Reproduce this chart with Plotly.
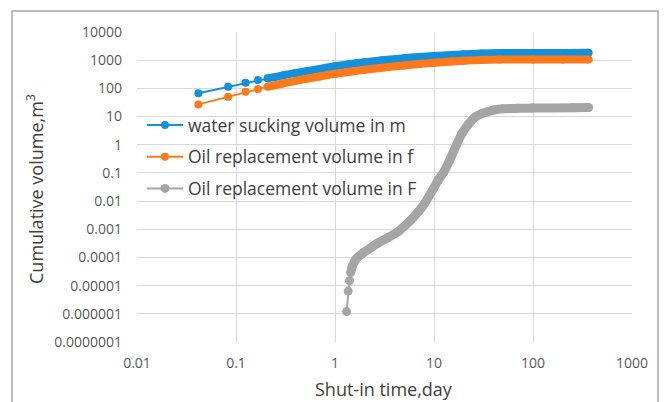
import plotly.graph_objects as go

# ---- data (time in days, volume in m^3) ----
t_water = [0.0417, 0.0833, 0.125, 0.1667, 0.2083, 0.25, 0.3, 0.4, 0.5, 0.7, 1.0, 1.42,
           2, 3, 5, 7, 10, 15, 20, 30, 46, 100, 200, 365]
v_water = [67, 114, 159, 198, 227, 255, 290, 350, 400, 490, 610, 730,
           850, 1000, 1180, 1300, 1400, 1530, 1620, 1720, 1780, 1800, 1810, 1820]

t_oil_f = [0.0417, 0.0833, 0.125, 0.1667, 0.2083, 0.25, 0.3, 0.4, 0.5, 0.7, 1.0, 1.42,
           2, 3, 5, 7, 10, 15, 20, 30, 46, 100, 200, 365]
v_oil_f = [27, 50, 76, 95, 114, 130, 150, 185, 215, 265, 330, 390,
           460, 540, 650, 730, 810, 890, 950, 1020, 1060, 1060, 1060, 1060]

t_oil_F = [1.31, 1.36, 1.40, 1.44, 1.50, 1.62, 1.9, 2.3, 2.7, 3.4, 4.3, 5.8, 7.0, 8.1,
           9.0, 10.0, 11.0, 12.4, 14.5, 16.9, 19, 22, 26, 30, 34, 40, 50, 70, 100, 250, 365]
v_oil_F = [1.2e-6, 6.4e-6, 1.5e-5, 2.9e-5, 5e-5, 8.5e-5, 1.4e-4, 2.2e-4, 3.2e-4, 5e-4,
           8.1e-4, 2.1e-3, 4.3e-3, 0.0085, 0.016, 0.03, 0.055, 0.1, 0.3, 1, 2.4, 5, 9.5,
           12.5, 14.5, 17, 19, 19.5, 20, 20.5, 21]

names = ["water sucking volume in m", "Oil replacement volume in f", "Oil replacement volume in F"]
colors = ["#1591DB", "#FD7A1C", "#A5A5A5"]
band_start = [4, 4, 3]

x_ticks = [0.01, 0.1, 1, 10, 100, 1000]
x_labels = ["0.01", "0.1", "1", "10", "100", "1000"]
y_ticks = [1e4, 1e3, 1e2, 1e1, 1, 0.1, 0.01, 1e-3, 1e-4, 1e-5, 1e-6, 1e-7]
y_labels = ["10000", "1000", "100", "10", "1", "0.1", "0.01", "0.001", "0.0001",
            "0.00001", "0.000001", "0.0000001"]

series = [(t_water, v_water), (t_oil_f, v_oil_f), (t_oil_F, v_oil_F)]

fig = go.Figure()
for i, ((t, v), name, col, bs) in enumerate(zip(series, names, colors, band_start)):
    msize = 9 if i == 2 else 8
    # dense part of the series drawn as a thick band
    fig.add_trace(go.Scatter(x=t[bs:], y=v[bs:], mode="lines",
                             line=dict(color=col, width=msize, shape="spline", smoothing=0.4),
                             showlegend=False, hoverinfo="skip"))
    fig.add_trace(go.Scatter(x=t, y=v, mode="lines+markers", name=name,
                             legendgroup=f"g{i}",
                             line=dict(color=col, width=2),
                             marker=dict(color=col, size=msize, symbol="circle")))

W, H = 664, 402
L, R, T, B = 137, 32, 32, 60
pw, ph = W - L - R, H - T - B

def px(xp):
    return (xp - L) / pw

def py(yp):
    return (H - B - yp) / ph

axis_font = dict(family="Open Sans, Liberation Sans, sans-serif", size=14, color="#595959")
fig.update_layout(
    width=W, height=H,
    margin=dict(l=L, r=R, t=T, b=B, autoexpand=False),
    paper_bgcolor="white", plot_bgcolor="white",
    font=dict(family="Open Sans, Liberation Sans, sans-serif", color="#404040"),
    xaxis=dict(type="log", range=[-2, 3], tickvals=x_ticks, ticktext=x_labels,
               showgrid=True, gridcolor="#D9D9D9", gridwidth=1.3, zeroline=False,
               showline=False, ticks="", tickfont=axis_font, ticklabelstandoff=11),
    yaxis=dict(type="log", range=[-7, 4], tickvals=y_ticks, ticktext=y_labels,
               showgrid=True, gridcolor="#D9D9D9", gridwidth=1.3, zeroline=False,
               showline=False, ticks="", tickfont=axis_font, ticklabelstandoff=14),
    legend=dict(x=px(142), y=py(107), xanchor="left", yanchor="top",
                bgcolor="rgba(0,0,0,0)", font=dict(size=17.5, color="#404040"),
                tracegroupgap=6, itemwidth=36),
    showlegend=True,
    annotations=[
        dict(text="Cumulative volume,m<sup>3</sup>", textangle=-90, x=px(35), y=py(189),
             xref="paper", yref="paper", showarrow=False, xanchor="center", yanchor="middle",
             font=dict(size=18, color="#404040")),
        dict(text="Shut-in time,day", x=px(384), y=py(389), xref="paper", yref="paper",
             showarrow=False, xanchor="center", yanchor="middle",
             font=dict(size=18, color="#404040")),
    ],
    shapes=[dict(type="rect", xref="paper", yref="paper", x0=px(12), x1=px(658),
                 y0=py(420), y1=py(11), line=dict(color="#A6A6A6", width=1.5),
                 layer="below")],
)

fig.write_html("out.html")
